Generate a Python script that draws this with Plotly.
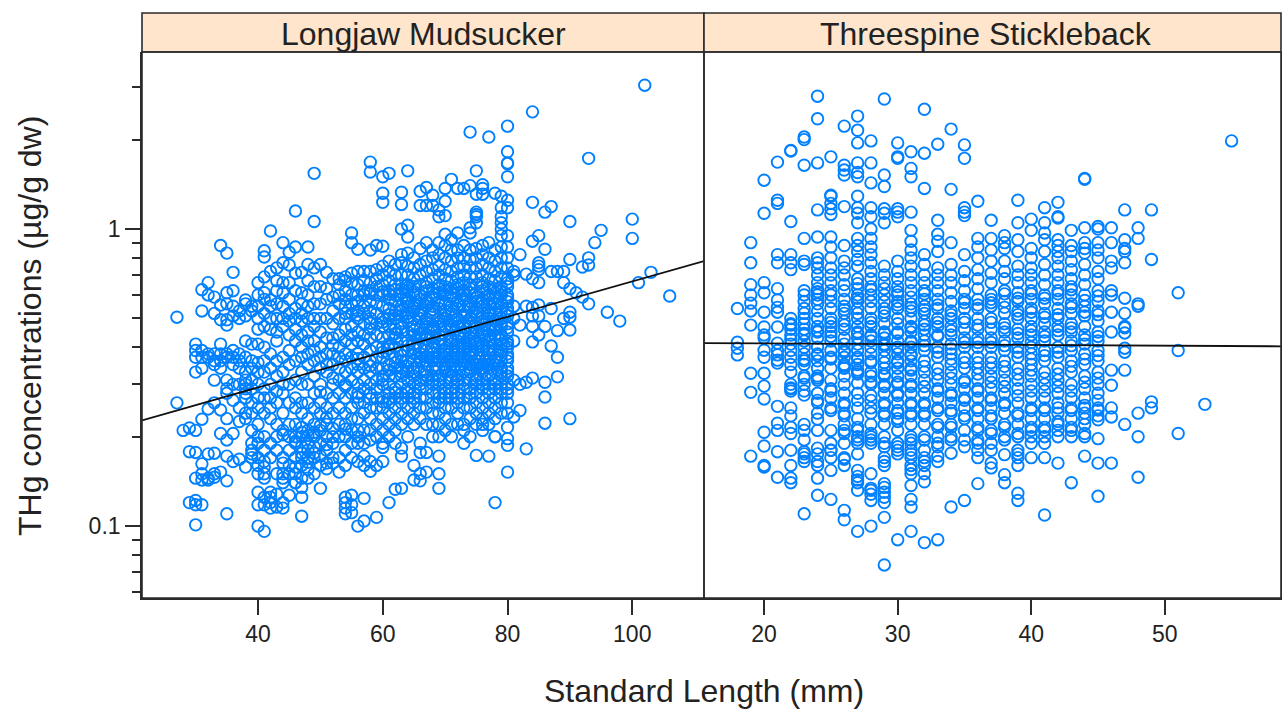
import plotly.graph_objects as go

# Longjaw Mudsucker: standard length (mm) and THg values read per length
mud_lengths = [27,28,29,30,31,32,33,34,35,36,37,38,39,40,41,42,43,44,45,46,47,48,49,50,51,52,53,54,55,56,57,58,59,60,
               61,62,63,64,65,66,67,68,69,70,71,72,73,74,75,76,77,78,79,80,81,82,83,84,85,86,87,88,89,90,91,92,93,94,95,96,98,100,101,102,103,106]
mud_thg = [
 [.505,.26],[.21],[.214,.178,.12],[.41,.39,.37,.33,.21,.177,.145,.122,.101,.118],
 [.625,.53,.39,.37,.34,.229,.162,.143,.118,.15],[.66,.6,.38,.37,.248,.175,.143,.145],
 [.59,.52,.38,.36,.35,.31,.176,.15,.146,.26],[.88,.555,.495,.41,.38,.36,.34,.246,.205,.152],
 [.83,.61,.56,.495,.475,.38,.37,.31,.29,.28,.23,.195,.172,.142,.11],[.715,.62,.55,.51,.39,.37,.35,.3,.265,.205,.165],
 [.53,.5,.38,.36,.34,.3,.25,.225,.168],[.577,.56,.51,.42,.37,.33,.31,.28,.27,.24,.23,.158,.3,.29],
 [.55,.53,.41,.36,.34,.31,.29,.26,.24,.21,.19,.18,.17,.175],
 [.66,.6,.55,.5,.46,.41,.355,.33,.3,.27,.25,.22,.2,.19,.17,.16,.15,.13,.1,.118],
 [.845,.805,.69,.61,.58,.52,.47,.4,.36,.33,.29,.27,.24,.2,.18,.165,.158,.15,.118,.096,.145,.125],
 [.985,.72,.577,.55,.5,.46,.38,.34,.3,.27,.25,.23,.19,.17,.13,.12,.125,.115],
 [.74,.67,.62,.56,.5,.45,.42,.36,.32,.285,.26,.22,.2,.18,.15,.128,.116],
 [.9,.77,.61,.66,.55,.5,.47,.37,.33,.3,.28,.24,.21,.17,.15,.145,.14,.115,.12],
 [.835,.757,.66,.58,.52,.49,.44,.39,.35,.3,.26,.22,.2,.18,.16,.127,.15],
 [1.15,.87,.71,.62,.54,.5,.46,.42,.36,.31,.27,.25,.22,.2,.19,.17,.15,.14,.14],
 [.715,.61,.56,.52,.49,.44,.4,.37,.33,.3,.26,.24,.215,.2,.185,.17,.16,.145,.135,.125,.108],
 [.87,.76,.67,.6,.55,.5,.45,.42,.38,.35,.3,.26,.23,.21,.19,.18,.17,.155,.145],
 [1.54,1.06,.74,.64,.56,.5,.47,.42,.39,.36,.32,.28,.25,.22,.2,.185,.17,.15],
 [.76,.64,.56,.5,.45,.4,.37,.34,.3,.26,.24,.21,.19,.16,.134],
 [.715,.63,.58,.5,.43,.38,.35,.33,.28,.25,.22,.2,.18,.156],
 [.59,.68,.53,.48,.43,.38,.35,.3,.27,.24,.2,.19,.17],
 [.68,.65,.6,.56,.5,.44,.4,.37,.34,.31,.28,.25,.22,.2,.17,.152],
 [.69,.67,.62,.58,.55,.5,.46,.42,.38,.36,.33,.3,.27,.24,.22,.2,.18,.16,.125,.12,.115,.11],
 [.97,.9,.71,.66,.6,.56,.52,.47,.44,.41,.37,.34,.31,.28,.25,.23,.21,.19,.17,.127,.118,.111],
 [.855,.72,.65,.6,.57,.53,.5,.45,.42,.38,.35,.33,.3,.28,.26,.23,.21,.2,.165,.1],
 [.72,.67,.62,.6,.55,.52,.48,.44,.41,.37,.34,.31,.29,.26,.24,.21,.19,.172,.16,.124,.104],
 [1.68,1.556,.85,.72,.66,.62,.57,.53,.5,.46,.43,.39,.36,.33,.3,.28,.25,.23,.21,.195,.153,.165],
 [.88,.73,.68,.64,.6,.56,.52,.48,.44,.4,.37,.34,.31,.29,.27,.25,.22,.2,.16,.107],
 [1.5,1.32,1.23,.875,.75,.7,.65,.6,.55,.5,.47,.43,.4,.37,.34,.32,.3,.27,.25,.23,.21,.19,.184,.165],
 [1.54,.78,.72,.67,.62,.58,.54,.5,.47,.44,.41,.38,.35,.32,.3,.28,.26,.24,.22,.2,.12],
 [.76,.7,.65,.6,.57,.53,.5,.46,.43,.4,.37,.34,.32,.29,.27,.25,.23,.21,.133,.19],
 [1.33,1.21,1.0,.82,.77,.7,.65,.61,.58,.55,.51,.48,.45,.42,.39,.36,.34,.32,.3,.28,.26,.24,.22,.183,.172,.134],
 [1.57,1.03,.94,.83,.75,.7,.65,.62,.58,.55,.52,.49,.45,.42,.39,.36,.33,.31,.29,.27,.25,.23,.2],
 [.8,.74,.68,.64,.6,.56,.53,.5,.47,.44,.41,.38,.36,.34,.32,.3,.28,.26,.24,.22,.16,.143],
 [1.34,1.2,.86,.76,.7,.65,.6,.56,.53,.5,.46,.43,.4,.38,.36,.33,.31,.29,.27,.25,.23,.19,.177,.15,.142],
 [1.38,1.2,.9,.78,.72,.66,.62,.58,.55,.5,.47,.44,.41,.39,.37,.35,.33,.31,.29,.27,.25,.22,.177,.152],
 [1.3,1.2,.85,.8,.73,.68,.63,.59,.55,.52,.49,.46,.43,.4,.38,.36,.34,.32,.3,.28,.26,.24,.22,.2],
 [1.16,1.1,.9,.82,.75,.7,.65,.61,.57,.54,.5,.47,.44,.41,.38,.36,.34,.32,.3,.28,.26,.24,.22,.2,.172,.15,.134],
 [1.37,1.24,1.11,.96,.88,.8,.73,.68,.64,.6,.56,.53,.5,.47,.44,.41,.39,.37,.35,.33,.31,.29,.27,.25,.23,.21],
 [1.47,.92,.85,.78,.72,.67,.63,.59,.55,.52,.49,.46,.43,.41,.39,.37,.35,.33,.31,.29,.27,.25,.22,.2],
 [1.37,.97,.85,.8,.74,.69,.65,.61,.57,.54,.5,.47,.44,.42,.4,.38,.36,.34,.32,.3,.28,.26,.24,.22],
 [1.37,.88,.8,.75,.7,.66,.62,.58,.55,.51,.48,.45,.43,.41,.39,.37,.35,.33,.31,.29,.27,.25,.22,.21,.19],
 [2.12,1.4,1.01,.97,.85,.79,.74,.69,.65,.61,.57,.54,.5,.47,.45,.43,.41,.39,.37,.35,.33,.31,.29,.27,.25,.23,.2],
 [1.57,1.31,1.14,1.12,1.1,1.05,.86,.8,.74,.69,.65,.61,.57,.54,.51,.48,.45,.42,.4,.38,.36,.34,.32,.3,.28,.26,.24,.22,.173],
 [1.41,1.37,1.31,.88,.82,.76,.7,.66,.62,.58,.55,.52,.49,.46,.44,.41,.39,.37,.35,.33,.31,.29,.27,.25,.23,.22,.21],
 [2.04,.9,.8,.74,.68,.64,.6,.56,.53,.5,.47,.44,.42,.4,.38,.36,.34,.32,.3,.28,.26,.24,.22,.172],
 [1.32,.85,.78,.72,.67,.63,.59,.56,.52,.49,.46,.44,.41,.39,.37,.35,.33,.31,.29,.27,.25,.23,.2,.2,.12],
 [1.29,1.18,1.1,1.05,1.0,.95,.87,.8,.74,.69,.64,.6,.56,.53,.5,.47,.44,.41,.39,.36,.34,.32,.3,.28,.26,.24],
 [2.22,1.82,1.67,1.66,1.5,1.25,1.18,.95,.87,.8,.74,.68,.64,.6,.57,.54,.51,.48,.45,.42,.4,.38,.36,.34,.32,.3,.28,.26,.24,.215,.197,.187,.152],
 [.72,.7,.55,.5,.42,.233,.31],[.82,.475,.245,.3],[.705,.305,.182,.55],
 [2.48,1.23,.91,.68,.545,.51,.47,.417,.315],[.95,.77,.75,.73,.66,.555,.51,.44],[1.14,.855,.47,.305,.272,.222],
 [1.19,.404,.54,.72],[.72,.455,.37,.318],[.72,.66,.5],[1.06,.79,.63,.525,.505,.457,.23],[.61],[.745,.59],
 [1.73,.8,.757,.56],[.9],[.99],[.525],[.49],[1.08,.93],[.66],[3.05],[.715],[.595],
]
# further marks in the crowded part of the cloud
mud_more_lengths = [44,46,47,48,49,50,51,52,54,56,58,60,61,62,63,64,65,66,67,68,69,70,71,72,73,74,75,76,77,78,79,80]
mud_more_thg = [
 [.203,.163],[.193,.158],[.207,.176],[.202,.164],[.207,.176],[.218,.172,.283],[.232,.188,.163],[.213,.163,.315,.406],
 [.295,.212,.52],[.513,.366,.272,.19],[.608,.482,.346,.268],[.615,.486,.385,.31,.262],[.603,.515,.395,.335,.268],
 [.625,.515,.445,.355,.282],[.628,.53,.465,.375,.33,.27],[.635,.565,.505,.405,.345,.282],[.615,.545,.455,.395,.33,.27],
 [.582,.515,.445,.37,.3],[.64,.565,.485,.425,.36,.32],[.61,.535,.475,.415,.37,.31],[.63,.555,.485,.425,.37,.31,.27],
 [.62,.515,.455,.38,.34,.28],[.61,.535,.475,.42,.36,.32,.28],[.63,.555,.485,.41,.37,.31,.27],[.6,.53,.465,.4,.36,.3],
 [.63,.555,.485,.42,.38,.34,.28],[.59,.525,.465,.41,.35,.31],[.64,.565,.505,.45,.4,.34,.3],[.58,.515,.455,.39,.35,.29],
 [.61,.54,.475,.43,.36,.3],[.62,.545,.485,.425,.375,.33,.29],[.66,.585,.525,.465,.41,.37,.33,.29],
]

# Threespine Stickleback
stick_lengths = [18,19,20,21,22,23,24,25,26,27,28,29,30,31,32,33,34,35,36,37,38,39,40,41,42,43,44,45,46,47,48,49,51,53,55]
stick_thg = [
 [.54,.416,.397,.377],
 [.90,.77,.65,.60,.563,.53,.475,.327,.282,.172],
 [1.46,1.13,.66,.61,.525,.468,.44,.43,.391,.37,.327,.296,.268,.207,.186,.16,.158],
 [1.68,1.25,1.22,.82,.77,.63,.577,.545,.525,.468,.413,.39,.377,.362,.354,.253,.222,.21,.178,.146],
 [1.84,1.83,1.06,.82,.77,.73,.5,.48,.46,.44,.41,.39,.37,.35,.33,.3,.29,.285,.25,.235,.215,.205,.18,.16,.145,.14],
 [2.04,2.0,1.64,.93,.78,.76,.62,.6,.57,.54,.52,.5,.48,.46,.44,.42,.4,.38,.36,.35,.32,.3,.285,.276,.22,.21,.195,.175,.17,.165,.11],
 [2.8,2.35,1.67,1.16,.94,.8,.77,.74,.7,.66,.63,.6,.58,.56,.53,.5,.47,.45,.43,.4,.38,.36,.34,.32,.31,.28,.26,.24,.229,.21,.183,.175,.165,.16,.145,.127],
 [1.75,1.3,1.29,1.22,1.17,1.12,.94,.87,.8,.74,.7,.66,.62,.6,.57,.54,.5,.47,.45,.42,.39,.37,.34,.31,.29,.27,.25,.21,.19,.18,.17,.154,.123],
 [2.22,1.64,1.58,1.52,1.19,.88,.78,.74,.7,.65,.62,.58,.55,.52,.49,.46,.43,.41,.39,.37,.35,.34,.32,.3,.28,.26,.24,.22,.21,.19,.17,.16,.113,.105],
 [2.4,2.15,1.95,1.67,1.55,1.5,1.29,1.18,1.13,1.05,.93,.88,.84,.79,.75,.68,.63,.6,.57,.54,.52,.5,.47,.45,.43,.41,.39,.37,.35,.33,.303,.28,.25,.23,.21,.2,.19,.175,.154,.147,.14,.132,.096],
 [1.98,1.67,1.43,1.18,1.1,1.0,.93,.87,.82,.77,.72,.68,.64,.6,.57,.54,.5,.47,.44,.42,.4,.38,.36,.33,.32,.3,.275,.25,.24,.22,.2,.19,.15,.134,.128,.122,.1],
 [2.74,1.52,1.39,1.17,1.13,1.05,.75,.7,.66,.63,.6,.57,.54,.51,.48,.45,.43,.41,.39,.37,.34,.32,.3,.28,.26,.24,.22,.2,.185,.17,.16,.139,.13,.125,.12,.107,.074],
 [1.95,1.75,1.73,1.17,1.14,1.1,.78,.72,.68,.64,.6,.57,.54,.5,.48,.45,.42,.4,.38,.36,.34,.32,.3,.28,.26,.24,.23,.21,.19,.18,.09],
 [1.82,1.6,1.5,1.14,.99,.91,.85,.8,.75,.7,.66,.62,.59,.56,.53,.5,.47,.45,.42,.4,.38,.36,.34,.32,.3,.28,.26,.24,.22,.2,.19,.18,.17,.16,.15,.137,.123,.116,.096],
 [2.53,1.8,1.37,.82,.76,.7,.66,.62,.58,.55,.52,.49,.46,.44,.42,.39,.36,.33,.31,.28,.26,.24,.22,.2,.18,.17,.16,.15,.141,.088],
 [1.93,1.07,.96,.91,.84,.74,.7,.66,.62,.58,.54,.5,.47,.44,.4,.37,.34,.31,.29,.27,.25,.22,.2,.19,.172,.165,.09],
 [2.17,1.36,.9,.76,.7,.66,.61,.57,.53,.5,.47,.44,.41,.38,.35,.33,.3,.28,.26,.24,.22,.2,.176,.116],
 [1.92,1.73,1.18,1.14,1.11,.82,.72,.67,.62,.58,.54,.5,.46,.43,.4,.37,.34,.31,.29,.27,.25,.23,.21,.185,.122],
 [1.24,.93,.87,.8,.73,.68,.63,.58,.54,.5,.46,.43,.4,.37,.34,.31,.29,.27,.25,.23,.21,.19,.18,.17,.139],
 [1.07,.93,.85,.78,.71,.66,.6,.58,.55,.5,.46,.43,.4,.37,.34,.32,.29,.27,.25,.23,.21,.19,.18,.163,.157],
 [.95,.9,.86,.78,.72,.68,.62,.57,.52,.48,.45,.42,.39,.36,.33,.31,.28,.26,.24,.22,.2,.174,.149,.14],
 [1.25,1.05,.92,.84,.75,.7,.66,.61,.57,.53,.5,.46,.43,.4,.37,.34,.31,.29,.26,.24,.22,.2,.18,.17,.16,.129,.122],
 [1.08,.99,.86,.8,.74,.7,.66,.62,.58,.54,.5,.47,.44,.4,.38,.35,.32,.3,.27,.25,.23,.21,.19,.17],
 [1.18,1.05,.97,.92,.84,.76,.7,.65,.6,.56,.52,.48,.45,.42,.39,.36,.33,.3,.27,.25,.23,.21,.2,.19,.17,.109],
 [1.23,1.1,1.09,.92,.88,.84,.8,.75,.7,.66,.62,.58,.54,.5,.47,.44,.4,.37,.34,.31,.28,.26,.24,.22,.21,.2,.163],
 [.99,.88,.84,.78,.73,.68,.64,.6,.56,.52,.48,.45,.42,.39,.36,.33,.3,.27,.25,.23,.21,.2,.14],
 [1.48,1.47,1.01,.9,.86,.83,.76,.7,.65,.6,.55,.51,.47,.44,.41,.38,.35,.32,.29,.27,.25,.24,.22,.2,.172],
 [1.02,1.0,.9,.85,.8,.72,.68,.62,.57,.53,.49,.45,.42,.39,.36,.33,.3,.28,.25,.246,.228,.197,.163,.126],
 [1.01,.9,.78,.74,.62,.6,.525,.45,.335,.298,.25,.233,.163],
 [1.16,.92,.86,.84,.77,.585,.52,.47,.465,.447,.397,.385,.335,.22],
 [1.01,.93,.56,.55,.24,.2,.146],
 [1.16,.79,.262,.25],
 [.61,.39,.205],
 [.257],
 [1.98],
]
# further marks in the crowded part of the columns
stick_more_lengths = [22,23,24,25,26,27,28,29,30,31,32,33,34,35,36,37,38,39,40,41,42,43,44,45]
stick_more_thg = [
 [.475,.425,.292],
 [.445,.365,.315,.178],
 [.615,.455,.375,.315,.265],
 [.485,.435,.365,.285,.245,.18],
 [.535,.475,.385,.345,.255,.235,.205,.168],
 [.655,.585,.445,.365,.335,.325,.265,.215,.195,.143],
 [.625,.485,.435,.355,.305,.265,.205,.195,.132],
 [.525,.445,.405,.355,.325,.295,.255,.235,.19,.165,.135],
 [.615,.555,.445,.395,.355,.305,.275,.245,.225,.185,.175],
 [.545,.465,.415,.375,.335,.295,.255,.235,.195,.175,.155],
 [.605,.535,.475,.405,.345,.295,.255,.235,.195,.165],
 [.555,.485,.435,.385,.325,.285,.245,.215,.185],
 [.515,.455,.395,.365,.315,.275,.245,.215,.195],
 [.565,.485,.415,.355,.305,.265,.235,.195],
 [.555,.475,.415,.355,.325,.285,.245,.215,.195],
 [.565,.485,.415,.355,.305,.265,.235,.205],
 [.605,.545,.465,.405,.345,.295,.255,.215,.195],
 [.585,.515,.445,.385,.325,.275,.235,.205,.175],
 [.605,.525,.455,.415,.365,.335,.285,.245,.215,.2],
 [.585,.505,.435,.375,.315,.285,.245,.215],
 [.605,.515,.455,.385,.325,.295,.25,.225],
 [.625,.545,.465,.405,.345,.285,.245,.215],
 [.575,.525,.425,.365,.305,.255,.23,.205],
 [.595,.515,.435,.375,.315,.265,.235],
]

panel_names = ["Longjaw Mudsucker", "Threespine Stickleback"]
mud_fit_x, mud_fit_y = [21.4, 111.5], [.227, .78]
stick_fit_x, stick_fit_y = [15.5, 58.7], [.413, .403]
y_major = [.1, 1]
y_major_text = ["0.1", "1"]
y_minor = [.06,.07,.08,.09,.2,.3,.4,.5,.6,.7,.8,.9,2,3]
mud_ticks = [40, 60, 80, 100]
stick_ticks = [20, 30, 40, 50]

W, H = 1282, 709
BLUE = "#0080FF"
INK = "#2b2b2b"
FONT = "Liberation Sans"

def flat(*pairs):
    xs, ys = [], []
    for lengths, cols in pairs:
        for l, c in zip(lengths, cols):
            for v in c:
                xs.append(l); ys.append(v)
    return xs, ys

fig = go.Figure()
mx, my = flat((mud_lengths, mud_thg), (mud_more_lengths, mud_more_thg))
sx, sy = flat((stick_lengths, stick_thg), (stick_more_lengths, stick_more_thg))
marker = dict(symbol="circle-open", size=11.5, color=BLUE, line=dict(width=1.9, color=BLUE))
fig.add_trace(go.Scatter(x=mx, y=my, mode="markers", marker=marker, xaxis="x", yaxis="y"))
fig.add_trace(go.Scatter(x=sx, y=sy, mode="markers", marker=marker, xaxis="x2", yaxis="y2"))
fig.add_trace(go.Scatter(x=mud_fit_x, y=mud_fit_y, mode="lines", line=dict(color="#111", width=1.8), xaxis="x", yaxis="y"))
fig.add_trace(go.Scatter(x=stick_fit_x, y=stick_fit_y, mode="lines", line=dict(color="#111", width=1.8), xaxis="x2", yaxis="y2"))

px_x = lambda p: p / W
px_y = lambda p: 1 - p / H
yrange = [-1.242, 0.596]
common_y = dict(type="log", range=yrange, domain=[px_y(598), px_y(52)], tickmode="array",
                tickvals=y_major, ticks="outside", ticklen=15, tickwidth=1.5, tickcolor=INK,
                minor=dict(tickmode="array", tickvals=y_minor, ticks="outside", ticklen=8, tickwidth=1.5, tickcolor=INK),
                showgrid=False, zeroline=False, showline=True, linecolor=INK, linewidth=1.6)
common_x = dict(ticks="outside", ticklen=15, tickwidth=1.5, tickcolor=INK, showgrid=False, zeroline=False,
                showline=True, linecolor=INK, linewidth=1.6, tickmode="array",
                tickfont=dict(family=FONT, size=23, color="#222"))
fig.update_layout(
    width=W, height=H, margin=dict(l=0, r=0, t=0, b=0, autoexpand=False), showlegend=False,
    paper_bgcolor="white", plot_bgcolor="white",
    xaxis=dict(common_x, domain=[px_x(142), px_x(704)], range=[21.4, 111.5], tickvals=mud_ticks, anchor="y"),
    xaxis2=dict(common_x, domain=[px_x(704), px_x(1281)], range=[15.5, 58.7], tickvals=stick_ticks, anchor="y2"),
    yaxis=dict(common_y, anchor="x", ticktext=y_major_text, tickfont=dict(family=FONT, size=23, color="#222")),
    yaxis2=dict(common_y, anchor="x2", side="right", showticklabels=False),
)
for x0, x1, cx, name in [(142, 704, 423, panel_names[0]), (704, 1281, 986, panel_names[1])]:
    fig.add_shape(type="rect", xref="paper", yref="paper", x0=px_x(x0), x1=px_x(x1), y0=px_y(52), y1=px_y(13),
                  fillcolor="#FFE5CC", line=dict(color=INK, width=1.6))
    fig.add_annotation(xref="paper", yref="paper", x=px_x(cx), y=px_y(34), text=name, showarrow=False,
                       font=dict(family=FONT, size=32, color="#222"), xanchor="center", yanchor="middle")
    fig.add_shape(type="rect", xref="paper", yref="paper", x0=px_x(x0), x1=px_x(x1), y0=px_y(598), y1=px_y(52),
                  fillcolor="rgba(0,0,0,0)", line=dict(color=INK, width=1.6))
fig.add_annotation(xref="paper", yref="paper", x=px_x(704), y=px_y(691), text="Standard Length (mm)", showarrow=False,
                   font=dict(family=FONT, size=32, color="#222"), xanchor="center", yanchor="middle")
fig.add_annotation(xref="paper", yref="paper", x=px_x(30), y=px_y(326), text="THg concentrations (µg/g dw)", showarrow=False,
                   textangle=-90, font=dict(family=FONT, size=32, color="#222"), xanchor="center", yanchor="middle")
fig.write_html("out.html", config=dict(responsive=False, displayModeBar=False),
               post_script="document.body.style.margin='0';document.body.style.overflow='hidden';"
                           "var gd=document.querySelector('.plotly-graph-div');"
                           "Plotly.relayout(gd,{width:1282,height:709});")
